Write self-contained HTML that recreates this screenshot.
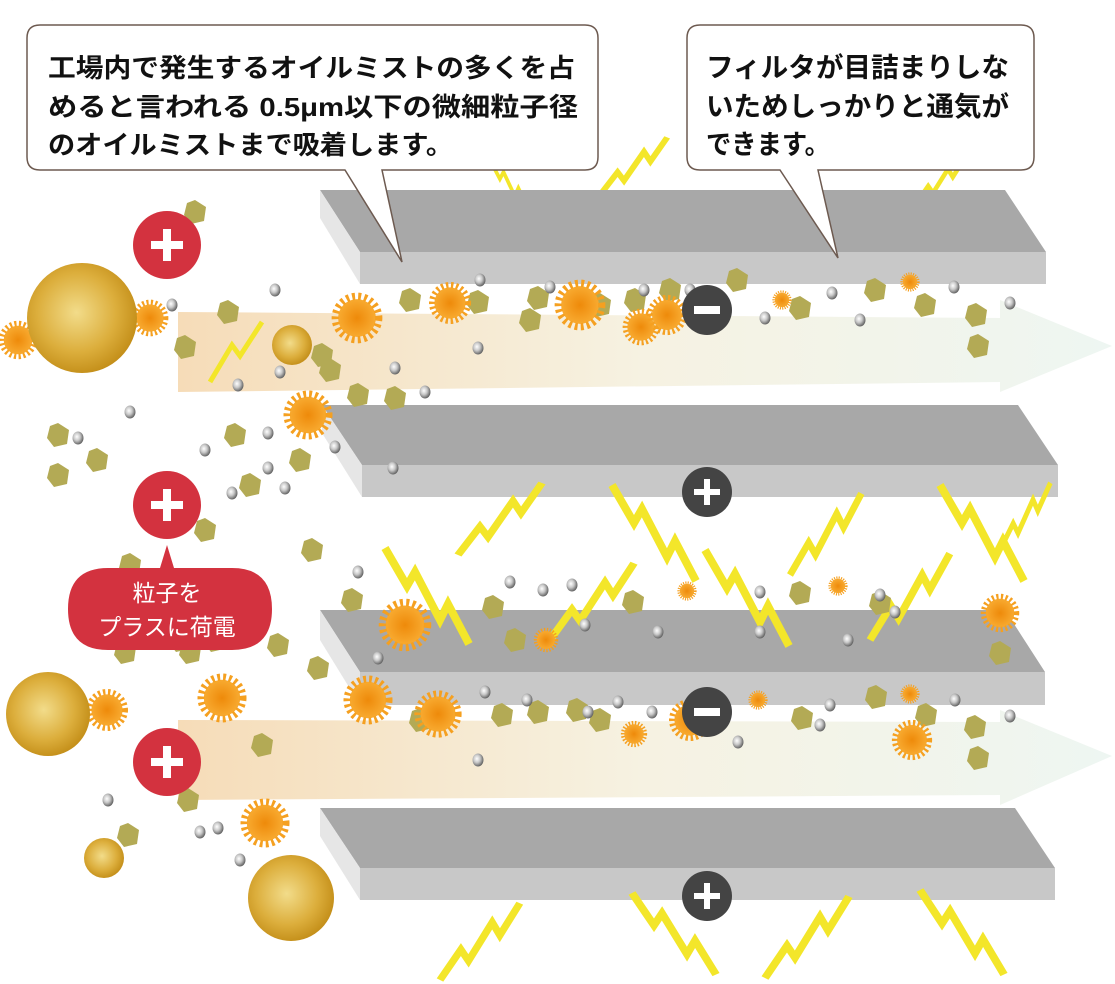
<!DOCTYPE html>
<html><head><meta charset="utf-8"><style>
html,body{margin:0;padding:0;background:#fff}
svg{display:block}
text{font-family:"Liberation Sans","Noto Sans CJK JP",sans-serif}
</style></head><body>
<svg width="1115" height="984" viewBox="0 0 1115 984" xmlns="http://www.w3.org/2000/svg">
<defs>
<radialGradient id="gold" cx="45%" cy="45%" r="60%"><stop offset="0" stop-color="#f2dc8a"/><stop offset="0.6" stop-color="#dcae3c"/><stop offset="1" stop-color="#c08a14"/></radialGradient>
<radialGradient id="org" cx="50%" cy="50%" r="50%"><stop offset="0" stop-color="#ee8a0a"/><stop offset="1" stop-color="#f8aa30"/></radialGradient>
<radialGradient id="ball" cx="40%" cy="40%" r="60%"><stop offset="0" stop-color="#fff"/><stop offset="0.5" stop-color="#c8c8c8"/><stop offset="1" stop-color="#666"/></radialGradient>
<linearGradient id="band" x1="0" x2="1" y1="0" y2="0"><stop offset="0" stop-color="#f6dcb8"/><stop offset="0.5" stop-color="#f6f2e2"/><stop offset="1" stop-color="#eef6f2"/></linearGradient>
<g id="st"><circle r="13" fill="url(#org)"/><circle r="15" fill="none" stroke="#f5a020" stroke-width="5" stroke-dasharray="2 2.2"/></g>
<g id="hx"><polygon points="0,-12 11,-5 9,9 -4,12 -11,3 -8,-9" fill="#b3aa55"/></g>
<g id="bl"><ellipse rx="5.5" ry="6.5" fill="url(#ball)"/></g>
<polyline id="lz" points="0,0 22,38 30,24 55,72 63,56 84,96" fill="none" stroke="#f3e62a" stroke-width="8" stroke-linejoin="miter"/>
</defs>

<text x="30" y="-2" font-size="20" fill="#999">電気集じん方式</text>

<use href="#lz" transform="translate(600,195) scale(0.8,-0.6)"/>
<use href="#lz" transform="translate(490,160) scale(0.45,0.5)"/>
<use href="#lz" transform="translate(915,205) scale(0.6,-0.5)"/>

<polygon points="178,312 1000,318 1000,300 1112,346 1000,392 1000,382 178,392" fill="url(#band)"/>
<polygon points="178,720 1000,722 1000,710 1112,756 1000,805 1000,795 178,800" fill="url(#band)"/>

<g>
<polygon points="320,190 1005,190 1046,252 360,252" fill="#a8a8a8"/>
<rect x="360" y="252" width="686" height="32" fill="#c8c8c8"/>
<polygon points="320,190 360,252 360,284 320,218" fill="#e6e6e6"/>
</g>
<g>
<polygon points="322,405 1018,405 1058,465 362,465" fill="#a8a8a8"/>
<rect x="362" y="465" width="696" height="32" fill="#c8c8c8"/>
<polygon points="322,405 362,465 362,497 322,433" fill="#e6e6e6"/>
</g>
<g>
<polygon points="320,610 1005,610 1045,672 360,672" fill="#a8a8a8"/>
<rect x="360" y="672" width="685" height="33" fill="#c8c8c8"/>
<polygon points="320,610 360,672 360,705 320,640" fill="#e6e6e6"/>
</g>
<g>
<polygon points="320,808 1015,808 1055,868 360,868" fill="#a8a8a8"/>
<rect x="360" y="868" width="695" height="32" fill="#c8c8c8"/>
<polygon points="320,808 360,868 360,900 320,836" fill="#e6e6e6"/>
</g>

<use href="#lz" transform="translate(385,548)"/>
<use href="#lz" transform="translate(458,555) scale(1,-0.75)"/>
<use href="#lz" transform="translate(612,485)"/>
<use href="#lz" transform="translate(550,640) scale(1,-0.8)"/>
<use href="#lz" transform="translate(705,550)"/>
<use href="#lz" transform="translate(790,575) scale(0.85,-0.85)"/>
<use href="#lz" transform="translate(870,640) scale(0.95,-0.9)"/>
<use href="#lz" transform="translate(940,485)"/>
<use href="#lz" transform="translate(1000,550) scale(0.6,-0.7)"/>
<use href="#lz" transform="translate(440,980) scale(0.95,-0.8)"/>
<use href="#lz" transform="translate(632,893) scale(1,0.85)"/>
<use href="#lz" transform="translate(765,978) scale(1,-0.85)"/>
<use href="#lz" transform="translate(920,890) scale(1,0.88)"/>

<polyline points="210,382 232,345 240,356 262,322" fill="none" stroke="#f3e62a" stroke-width="5"/>

<g>
<use href="#hx" x="195" y="212"/><use href="#hx" x="185" y="347"/><use href="#hx" x="228" y="312"/>
<use href="#hx" x="322" y="355"/><use href="#hx" x="330" y="370"/><use href="#hx" x="358" y="395"/><use href="#hx" x="395" y="398"/>
<use href="#hx" x="410" y="300"/><use href="#hx" x="478" y="302"/><use href="#hx" x="530" y="320"/><use href="#hx" x="538" y="298"/>
<use href="#hx" x="600" y="305"/><use href="#hx" x="635" y="300"/><use href="#hx" x="670" y="290"/><use href="#hx" x="737" y="280"/>
<use href="#hx" x="800" y="308"/><use href="#hx" x="875" y="290"/><use href="#hx" x="925" y="305"/><use href="#hx" x="976" y="315"/><use href="#hx" x="978" y="346"/>
<use href="#hx" x="58" y="435"/><use href="#hx" x="58" y="475"/><use href="#hx" x="97" y="460"/><use href="#hx" x="235" y="435"/><use href="#hx" x="300" y="460"/>
<use href="#hx" x="250" y="485"/><use href="#hx" x="130" y="565"/><use href="#hx" x="205" y="530"/><use href="#hx" x="312" y="550"/><use href="#hx" x="352" y="600"/>
<use href="#hx" x="278" y="645"/><use href="#hx" x="318" y="668"/><use href="#hx" x="125" y="652"/><use href="#hx" x="190" y="652"/>
<use href="#hx" x="493" y="607"/><use href="#hx" x="515" y="640"/><use href="#hx" x="633" y="602"/><use href="#hx" x="800" y="593"/><use href="#hx" x="880" y="603"/><use href="#hx" x="1000" y="653"/>
<use href="#hx" x="420" y="720"/><use href="#hx" x="502" y="715"/><use href="#hx" x="538" y="712"/><use href="#hx" x="577" y="710"/><use href="#hx" x="600" y="720"/>
<use href="#hx" x="802" y="718"/><use href="#hx" x="876" y="697"/><use href="#hx" x="926" y="715"/><use href="#hx" x="975" y="727"/><use href="#hx" x="978" y="758"/>
<use href="#hx" x="262" y="745"/><use href="#hx" x="188" y="800"/><use href="#hx" x="128" y="835"/><use href="#hx" x="180" y="640"/><use href="#hx" x="215" y="640"/>
</g>
<g>
<use href="#bl" x="172" y="305"/><use href="#bl" x="275" y="290"/><use href="#bl" x="480" y="280"/><use href="#bl" x="550" y="287"/><use href="#bl" x="644" y="290"/>
<use href="#bl" x="690" y="290"/><use href="#bl" x="765" y="318"/><use href="#bl" x="832" y="293"/><use href="#bl" x="860" y="320"/><use href="#bl" x="954" y="287"/><use href="#bl" x="1010" y="303"/>
<use href="#bl" x="238" y="385"/><use href="#bl" x="280" y="372"/><use href="#bl" x="395" y="368"/><use href="#bl" x="478" y="348"/><use href="#bl" x="425" y="392"/>
<use href="#bl" x="130" y="412"/><use href="#bl" x="78" y="438"/><use href="#bl" x="205" y="450"/><use href="#bl" x="268" y="433"/><use href="#bl" x="268" y="468"/>
<use href="#bl" x="232" y="493"/><use href="#bl" x="335" y="447"/><use href="#bl" x="393" y="468"/><use href="#bl" x="285" y="488"/>
<use href="#bl" x="358" y="572"/><use href="#bl" x="510" y="582"/><use href="#bl" x="543" y="590"/><use href="#bl" x="572" y="585"/><use href="#bl" x="585" y="625"/>
<use href="#bl" x="658" y="632"/><use href="#bl" x="760" y="592"/><use href="#bl" x="760" y="632"/><use href="#bl" x="848" y="640"/><use href="#bl" x="880" y="595"/><use href="#bl" x="895" y="612"/>
<use href="#bl" x="378" y="658"/><use href="#bl" x="485" y="692"/><use href="#bl" x="527" y="700"/><use href="#bl" x="588" y="712"/><use href="#bl" x="618" y="702"/>
<use href="#bl" x="652" y="712"/><use href="#bl" x="738" y="742"/><use href="#bl" x="830" y="705"/><use href="#bl" x="820" y="725"/><use href="#bl" x="955" y="700"/><use href="#bl" x="1010" y="716"/>
<use href="#bl" x="478" y="760"/><use href="#bl" x="108" y="800"/><use href="#bl" x="200" y="832"/><use href="#bl" x="240" y="860"/><use href="#bl" x="218" y="828"/>
</g>
<g>
<use href="#st" transform="translate(18,340) scale(1.1)"/><use href="#st" transform="translate(150,318) scale(1.05)"/>
<use href="#st" transform="translate(357,318) scale(1.45)"/><use href="#st" transform="translate(450,303) scale(1.2)"/>
<use href="#st" transform="translate(580,305) scale(1.45)"/><use href="#st" transform="translate(641,327) scale(1.05)"/>
<use href="#st" transform="translate(308,415) scale(1.4)"/><use href="#st" transform="translate(667,315) scale(1.15)"/>
<use href="#st" transform="translate(782,300) scale(0.55)"/><use href="#st" transform="translate(910,282) scale(0.55)"/>
<use href="#st" transform="translate(405,625) scale(1.5)"/><use href="#st" transform="translate(546,640) scale(0.7)"/>
<use href="#st" transform="translate(687,591) scale(0.55)"/><use href="#st" transform="translate(838,586) scale(0.55)"/><use href="#st" transform="translate(1000,613) scale(1.1)"/>
<use href="#st" transform="translate(368,700) scale(1.4)"/><use href="#st" transform="translate(222,698) scale(1.4)"/>
<use href="#st" transform="translate(107,710) scale(1.2)"/><use href="#st" transform="translate(438,714) scale(1.35)"/>
<use href="#st" transform="translate(634,734) scale(0.75)"/><use href="#st" transform="translate(690,720) scale(1.2)"/>
<use href="#st" transform="translate(758,700) scale(0.55)"/><use href="#st" transform="translate(910,694) scale(0.55)"/><use href="#st" transform="translate(912,740) scale(1.15)"/>
<use href="#st" transform="translate(265,823) scale(1.4)"/>
</g>
<circle cx="82" cy="318" r="55" fill="url(#gold)"/>
<circle cx="292" cy="345" r="20" fill="url(#gold)"/>
<circle cx="48" cy="714" r="42" fill="url(#gold)"/>
<circle cx="104" cy="858" r="20" fill="url(#gold)"/>
<circle cx="291" cy="898" r="43" fill="url(#gold)"/>

<g fill="#444">
<circle cx="707" cy="310" r="25"/><circle cx="707" cy="712" r="25"/>
<circle cx="707" cy="492" r="25"/><circle cx="707" cy="896" r="25"/>
</g>
<g fill="#fff">
<rect x="694" y="306" width="26" height="8"/><rect x="694" y="708" width="26" height="8"/>
<rect x="694" y="489" width="26" height="6"/><rect x="704" y="479" width="6" height="26"/>
<rect x="694" y="893" width="26" height="6"/><rect x="704" y="883" width="6" height="26"/>
</g>
<g fill="#d3323f">
<circle cx="167" cy="245" r="34"/><circle cx="167" cy="505" r="34"/><circle cx="167" cy="762" r="34"/>
</g>
<g fill="#fff">
<rect x="151" y="241" width="32" height="8"/><rect x="163" y="229" width="8" height="32"/>
<rect x="151" y="501" width="32" height="8"/><rect x="163" y="489" width="8" height="32"/>
<rect x="151" y="758" width="32" height="8"/><rect x="163" y="746" width="8" height="32"/>
</g>

<path d="M108,568 L160,568 L167,545 L174,568 L232,568 Q272,568 272,609 Q272,650 232,650 L108,650 Q68,650 68,609 Q68,568 108,568 Z" fill="#d3323f"/>
<text x="167" y="601" font-size="23" fill="#fff" text-anchor="middle">粒子を</text>
<text x="167" y="635" font-size="23" fill="#fff" text-anchor="middle">プラスに荷電</text>

<path d="M40,25 L585,25 Q598,25 598,38 L598,157 Q598,170 585,170 L382,170 L402,262 L345,170 L40,170 Q27,170 27,157 L27,38 Q27,25 40,25 Z" fill="#fff" stroke="#6d5a50" stroke-width="1.5"/>
<text font-size="26" fill="#111" font-weight="bold">
<tspan x="48" y="77" textLength="527" lengthAdjust="spacingAndGlyphs">工場内で発生するオイルミストの多くを占</tspan>
<tspan x="48" y="116" textLength="530" lengthAdjust="spacingAndGlyphs">めると言われる 0.5μm以下の微細粒子径</tspan>
<tspan x="48" y="154" textLength="405" lengthAdjust="spacingAndGlyphs">のオイルミストまで吸着します。</tspan></text>
<path d="M700,25 L1021,25 Q1034,25 1034,38 L1034,157 Q1034,170 1021,170 L818,170 L838,258 L780,170 L700,170 Q687,170 687,157 L687,38 Q687,25 700,25 Z" fill="#fff" stroke="#6d5a50" stroke-width="1.5"/>
<text font-size="27" fill="#111" font-weight="bold">
<tspan x="706" y="77" textLength="303" lengthAdjust="spacingAndGlyphs">フィルタが目詰まりしな</tspan>
<tspan x="706" y="116" textLength="303" lengthAdjust="spacingAndGlyphs">いためしっかりと通気が</tspan>
<tspan x="706" y="154" textLength="124" lengthAdjust="spacingAndGlyphs">できます。</tspan></text>
</svg>
</body></html>
